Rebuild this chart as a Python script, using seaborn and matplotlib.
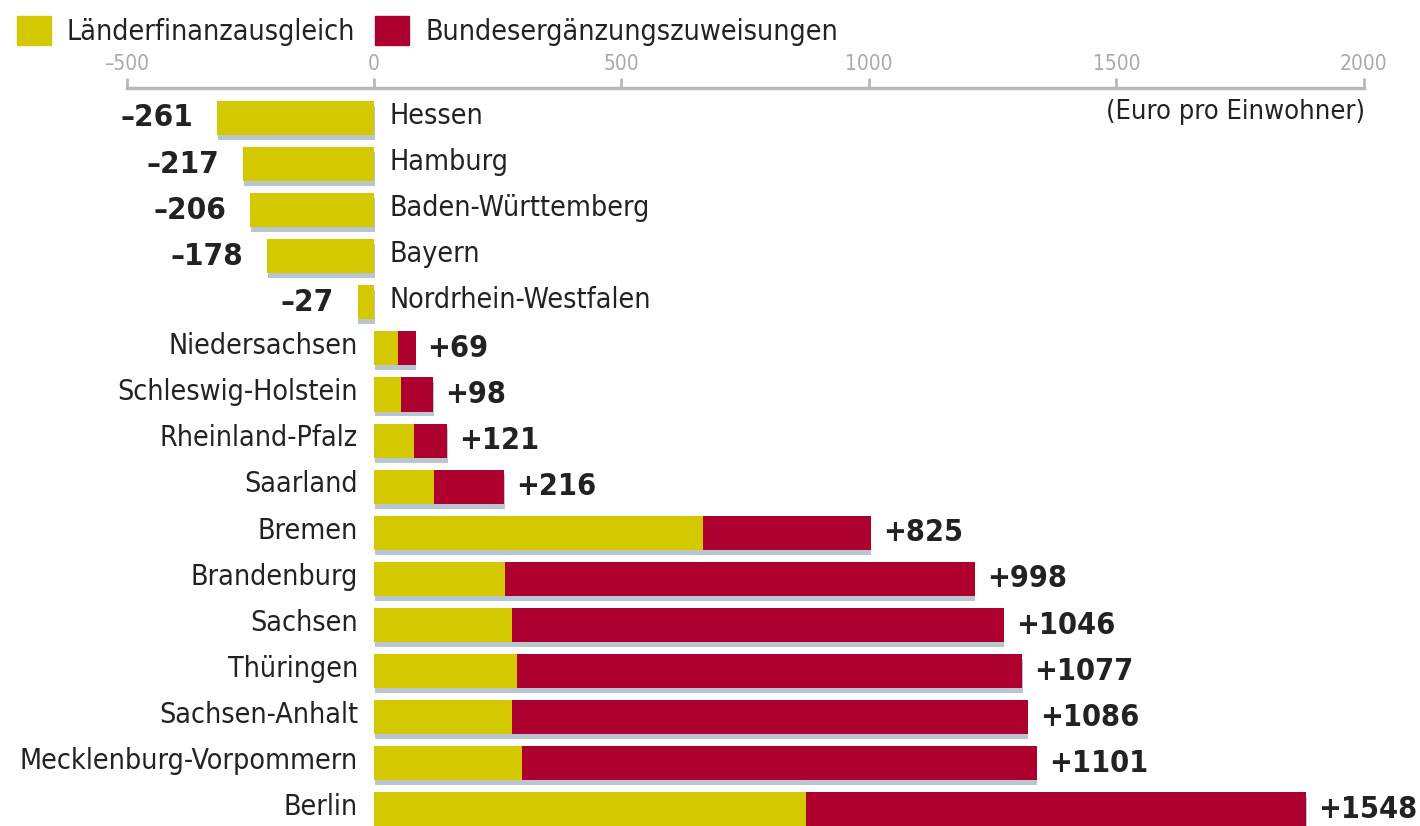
"""
Finanzausgleich 2010 — Länderfinanzausgleich + Bundesergänzungszuweisungen
je Einwohner, horizontal gestapelte Balken.
"""

import numpy as np
import pandas as pd
import matplotlib.pyplot as plt
import matplotlib.patheffects as pe
from matplotlib.patches import Patch
import seaborn as sns

# ── Data ───────────────────────────────────────────────────────────────────────
STATES = [
    "Hessen", "Hamburg", "Baden-Württemberg", "Bayern", "Nordrhein-Westfalen",
    "Niedersachsen", "Schleswig-Holstein", "Rheinland-Pfalz", "Saarland",
    "Bremen", "Brandenburg", "Sachsen", "Thüringen", "Sachsen-Anhalt",
    "Mecklenburg-Vorpommern", "Berlin",
]
TOTAL = [-261, -217, -206, -178, -27, 69, 98, 121, 216,
         825, 998, 1046, 1077, 1086, 1101, 1548]
LFA = [-261, -217, -206, -178, -27, 40, 45, 67, 100,
       546, 218, 230, 238, 230, 246, 718]
TICK_VALUES = [-500, 0, 500, 1000, 1500, 2000]

# ── Style ──────────────────────────────────────────────────────────────────────
YELLOW = "#d4c800"
RED    = "#ae002e"
SHADOW = "#b9c6cf"
AXIS   = "#b8b8bc"
TEXT   = "#222222"
TICK_SCALE = 0.822   # printed axis of the original is compressed vs. the bars
PX = 0.602           # pixels per data unit

sns.set_style("white")
plt.rcParams["font.family"] = ["DejaVu Sans"]
plt.rcParams["font.stretch"] = "condensed"

df = pd.DataFrame({"state": STATES, "total": TOTAL, "lfa": LFA})

# ── Plot ───────────────────────────────────────────────────────────────────────
fig = plt.figure(figsize=(14.2, 8.26), dpi=100)
ax = fig.add_axes([0, 0, 1, 738 / 826])

sns.barplot(data=df, x="total", y="state", orient="h", color=RED,
            saturation=1, width=0.74, linewidth=0, ax=ax)
for bar in ax.containers[0]:
    bar.set_path_effects([
        pe.SimplePatchShadow(offset=(0.5, -3.5), shadow_rgbFace=SHADOW, alpha=1),
        pe.Normal(),
    ])
sns.barplot(data=df, x="lfa", y="state", orient="h", color=YELLOW,
            saturation=1, width=0.74, linewidth=0, ax=ax)

ax.set_xlim(-374 / PX, (1420 - 374) / PX)
ax.set_ylim(15.36, -0.65)
ax.set_xlabel("")
ax.set_ylabel("")
ax.set_yticks([])

# top axis with the original tick labels
ax.xaxis.tick_top()
ax.set_xticks(np.array(TICK_VALUES) * TICK_SCALE)
ax.set_xticklabels([str(v).replace("-", "–") for v in TICK_VALUES])
ax.tick_params(axis="x", direction="out", length=7, width=2, color=AXIS,
               labelcolor="#aaaaaa", labelsize=15, pad=3)
for side in ["left", "right", "bottom"]:
    ax.spines[side].set_visible(False)
ax.spines["top"].set_color(AXIS)
ax.spines["top"].set_linewidth(2.5)
ax.spines["top"].set_bounds(TICK_VALUES[0] * TICK_SCALE, TICK_VALUES[-1] * TICK_SCALE)

# labels
for i, (state, total) in enumerate(zip(STATES, TOTAL)):
    if total < 0:
        ax.text(total - 24 / PX, i, f"–{abs(total)}", ha="right", va="center",
                fontsize=22.5, fontweight="bold", color=TEXT)
        ax.text(15 / PX, i - 0.05, state, ha="left", va="center",
                fontsize=20.5, color=TEXT)
    else:
        ax.text(total + 12 / PX, i, f"+{total}", ha="left", va="center",
                fontsize=22, fontweight="bold", color=TEXT)
        ax.text(-16 / PX, i - 0.05, state, ha="right", va="center",
                fontsize=20.5, color=TEXT)

ax.text(1365 / 1420, 0.985, "(Euro pro Einwohner)", transform=ax.transAxes,
        ha="right", va="top", fontsize=19.5, color=TEXT)

# legend
handles = [Patch(color=YELLOW, label="Länderfinanzausgleich"),
           Patch(color=RED, label="Bundesergänzungszuweisungen")]
fig.legend(handles=handles, loc="upper left", bbox_to_anchor=(-0.006, 1.012),
           ncol=2, frameon=False, fontsize=20.5, handlelength=1.2,
           handleheight=1.2, handletextpad=0.55, columnspacing=0.7,
           labelcolor=TEXT)

plt.savefig("out.png", dpi=100)
plt.close()
